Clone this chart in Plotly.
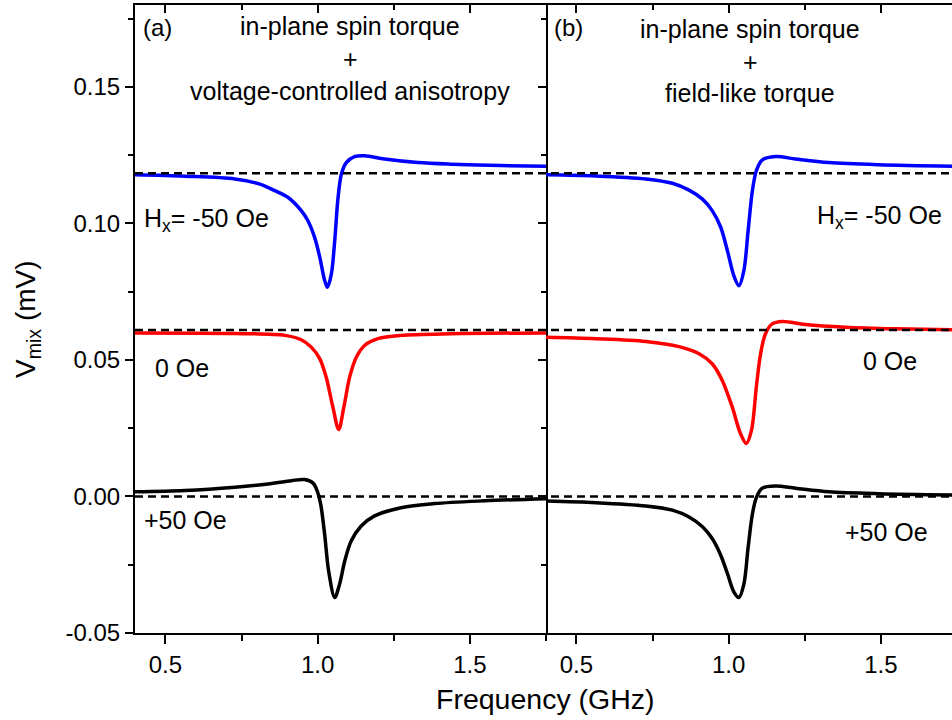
import plotly.graph_objects as go

# ---------------- data ----------------
# Panel (a): in-plane spin torque + voltage-controlled anisotropy
freq_a_m50 = [0.40, 0.564, 0.728, 0.810, 0.859, 0.903, 0.946, 0.968, 0.990, 1.007, 1.023, 1.032,
              1.045, 1.056, 1.067, 1.078, 1.094, 1.121, 1.154, 1.220, 1.329, 1.438, 1.602, 1.75]
vmix_a_m50 = [0.1178, 0.1173, 0.1163, 0.1144, 0.1120, 0.1095, 0.1047, 0.1010, 0.0949, 0.0876, 0.0791, 0.0766,
              0.0815, 0.0937, 0.1095, 0.1181, 0.1223, 0.1245, 0.1248, 0.1236, 0.1223, 0.1217, 0.1212, 0.1209]

freq_a_0 = [0.40, 0.728, 0.892, 0.946, 0.979, 1.007, 1.028, 1.050, 1.069, 1.086, 1.105, 1.127,
            1.154, 1.198, 1.274, 1.438, 1.75]
vmix_a_0 = [0.0599, 0.0597, 0.0590, 0.0574, 0.0547, 0.0504, 0.0437, 0.0327, 0.0245, 0.0327, 0.0437, 0.0510,
            0.0553, 0.0578, 0.0590, 0.0596, 0.0599]

freq_a_p50 = [0.40, 0.564, 0.728, 0.837, 0.914, 0.957, 0.985, 0.999, 1.010, 1.023, 1.036, 1.056,
              1.072, 1.089, 1.110, 1.143, 1.187, 1.274, 1.384, 1.548, 1.75]
vmix_a_p50 = [0.0017, 0.0022, 0.0034, 0.0046, 0.0058, 0.0062, 0.0049, 0.0019, -0.0029, -0.0139, -0.0273, -0.0370,
              -0.0321, -0.0236, -0.0163, -0.0108, -0.0071, -0.0041, -0.0026, -0.0016, -0.0008]

# Panel (b): in-plane spin torque + field-like torque
freq_b_m50 = [0.40, 0.564, 0.728, 0.815, 0.870, 0.914, 0.946, 0.974, 0.996, 1.017, 1.034, 1.050,
              1.064, 1.078, 1.091, 1.110, 1.154, 1.220, 1.329, 1.493, 1.75]
vmix_b_m50 = [0.1178, 0.1174, 0.1163, 0.1147, 0.1122, 0.1089, 0.1047, 0.0986, 0.0900, 0.0809, 0.0772, 0.0827,
              0.0973, 0.1120, 0.1193, 0.1232, 0.1245, 0.1236, 0.1223, 0.1215, 0.1209]

freq_b_0 = [0.40, 0.564, 0.728, 0.837, 0.903, 0.946, 0.979, 1.012, 1.039, 1.058, 1.075, 1.091,
            1.105, 1.121, 1.143, 1.176, 1.252, 1.384, 1.548, 1.75]
vmix_b_0 = [0.0583, 0.0578, 0.0568, 0.0549, 0.0523, 0.0486, 0.0425, 0.0327, 0.0230, 0.0194, 0.0242, 0.0401,
            0.0523, 0.0596, 0.0632, 0.0641, 0.0630, 0.0620, 0.0614, 0.0610]

freq_b_p50 = [0.40, 0.564, 0.728, 0.815, 0.870, 0.914, 0.946, 0.974, 0.996, 1.017, 1.034, 1.050,
              1.064, 1.078, 1.091, 1.110, 1.154, 1.220, 1.329, 1.493, 1.75]
vmix_b_p50 = [-0.0017, -0.0023, -0.0035, -0.0050, -0.0075, -0.0111, -0.0154, -0.0215, -0.0282, -0.0349, -0.0370, -0.0321,
              -0.0187, -0.0065, -0.0004, 0.0030, 0.0038, 0.0030, 0.0017, 0.0010, 0.0005]

baselines = [0.1184, 0.061, 0.0]

x_tickvals = [0.5, 1.0, 1.5]
x_ticktext = ["0.5", "1.0", "1.5"]
y_tickvals = [-0.05, 0.0, 0.05, 0.10, 0.15]
y_ticktext = ["-0.05", "0.00", "0.05", "0.10", "0.15"]

# ---------------- figure ----------------
FONT = "Liberation Sans, Arial, sans-serif"
W, H = 952, 720
ML, MR, MT, MB = 135, 0, 5, 87
split = (546 - ML) / (W - ML - MR)

fig = go.Figure()

LW = 3.5
series = [
    (freq_a_m50, vmix_a_m50, "#0000FF", "x", "y"),
    (freq_a_0, vmix_a_0, "#FF0000", "x", "y"),
    (freq_a_p50, vmix_a_p50, "#000000", "x", "y"),
    (freq_b_m50, vmix_b_m50, "#0000FF", "x2", "y2"),
    (freq_b_0, vmix_b_0, "#FF0000", "x2", "y2"),
    (freq_b_p50, vmix_b_p50, "#000000", "x2", "y2"),
]
for fx, vy, col, xa, ya in series:
    fig.add_trace(go.Scatter(x=fx, y=vy, mode="lines", xaxis=xa, yaxis=ya,
                             line=dict(color=col, width=LW, shape="spline", smoothing=0.9),
                             showlegend=False, hoverinfo="skip"))

# dashed reference lines across both panels
for b in baselines:
    fig.add_shape(type="line", xref="paper", yref="y", x0=0, x1=1, y0=b, y1=b,
                  line=dict(color="black", width=2.5, dash="8px,5px"), layer="above")

yr = [-0.05, 0.18]
xr_a = [0.4, 1.75]
xr_b = [0.4, 0.4 + (W - 546) / 304.4]

axcommon = dict(showgrid=False, zeroline=False, linecolor="black", tickcolor="black",
                tickfont=dict(family=FONT, size=24, color="black"))

fig.update_layout(
    width=W, height=H,
    margin=dict(l=ML, r=MR, t=MT, b=MB),
    paper_bgcolor="white", plot_bgcolor="white",
    font=dict(family=FONT, color="black"),
    xaxis=dict(domain=[0, split], range=xr_a, anchor="y", showline=True, linewidth=2, mirror=True,
               ticks="outside", ticklen=9, tickwidth=2, tickvals=x_tickvals, ticktext=x_ticktext,
               minor=dict(ticks="outside", ticklen=6, tickwidth=2, tickmode="linear", tick0=0, dtick=0.25,
                          tickcolor="black"),
               **axcommon),
    xaxis2=dict(domain=[split, 1], range=xr_b, anchor="y2", showline=True, linewidth=2, mirror=True,
                ticks="outside", ticklen=9, tickwidth=2, tickvals=x_tickvals, ticktext=x_ticktext,
                minor=dict(ticks="outside", ticklen=6, tickwidth=2, tickmode="linear", tick0=0, dtick=0.25,
                           tickcolor="black"),
                **axcommon),
    xaxis3=dict(overlaying="x", anchor="y", side="top", range=xr_a, showline=False,
                ticks="inside", ticklen=8, tickwidth=2, tickvals=x_tickvals, showticklabels=False,
                minor=dict(ticks="inside", ticklen=5, tickwidth=2, tickmode="linear", tick0=0, dtick=0.25,
                           tickcolor="black"),
                **axcommon),
    xaxis4=dict(overlaying="x2", anchor="y2", side="top", range=xr_b, showline=False,
                ticks="inside", ticklen=8, tickwidth=2, tickvals=x_tickvals, showticklabels=False,
                minor=dict(ticks="inside", ticklen=5, tickwidth=2, tickmode="linear", tick0=0, dtick=0.25,
                           tickcolor="black"),
                **axcommon),
    yaxis=dict(domain=[0, 1], range=yr, anchor="x", showline=True, linewidth=2, mirror=True,
               ticks="outside", ticklen=8, tickwidth=2, tickvals=y_tickvals, ticktext=y_ticktext,
               minor=dict(ticks="outside", ticklen=5, tickwidth=2, tickmode="linear", tick0=0, dtick=0.025,
                          tickcolor="black"),
               **axcommon),
    yaxis3=dict(overlaying="y", anchor="x", side="right", range=yr, showline=False,
                ticks="inside", ticklen=8, tickwidth=2, tickvals=y_tickvals, showticklabels=False,
                minor=dict(ticks="inside", ticklen=5, tickwidth=2, tickmode="linear", tick0=0, dtick=0.025,
                           tickcolor="black"),
                **axcommon),
    yaxis2=dict(domain=[0, 1], range=yr, anchor="x2", showline=False, ticks="", showticklabels=False,
                **{k: v for k, v in axcommon.items() if k != "tickfont"}),
)

# invisible traces to activate overlay axes
fig.add_trace(go.Scatter(x=[None], y=[None], xaxis="x3", yaxis="y", showlegend=False, hoverinfo="skip"))
fig.add_trace(go.Scatter(x=[None], y=[None], xaxis="x4", yaxis="y2", showlegend=False, hoverinfo="skip"))
fig.add_trace(go.Scatter(x=[None], y=[None], xaxis="x", yaxis="y3", showlegend=False, hoverinfo="skip"))

TXT = 25

def ann(text, x, y, xref, yref, xanchor="left", size=TXT, **kw):
    fig.add_annotation(text=text, x=x, y=y, xref=xref, yref=yref, xanchor=xanchor, yanchor="middle",
                       showarrow=False, font=dict(family=FONT, size=size, color="black"), **kw)

# panel labels and titles
ann("(a)", 0.421, 0.1716, "x", "y", size=24)
ann("in-plane spin torque", 1.107, 0.1722, "x", "y", xanchor="center")
ann("+", 1.107, 0.1602, "x", "y", xanchor="center")
ann("voltage-controlled anisotropy", 1.107, 0.1484, "x", "y", xanchor="center")

ann("(b)", 0.419, 0.1716, "x2", "y2", size=24)
ann("in-plane spin torque", 1.071, 0.1712, "x2", "y2", xanchor="center")
ann("+", 1.071, 0.1593, "x2", "y2", xanchor="center")
ann("field-like torque", 1.071, 0.1476, "x2", "y2", xanchor="center")

# field labels
ann("H<sub>x</sub>= -50 Oe", 0.424, 0.1012, "x", "y")
ann("H<sub>x</sub>= -50 Oe", 1.284, 0.1022, "x2", "y2")
ann("0 Oe", 0.458, 0.0469, "x", "y")
ann("0 Oe", 1.436, 0.0498, "x2", "y2")
ann("+50 Oe", 0.424, -0.0087, "x", "y")
ann("+50 Oe", 1.376, -0.0131, "x2", "y2")

# axis titles
ann("Frequency (GHz)", (545 - ML) / (W - ML - MR), -(699 - (H - MB)) / (H - MB - MT), "paper", "paper",
    xanchor="center", size=28.5)
ann("V<sub>mix</sub> (mV)", (27 - ML) / (W - ML - MR), 0.5, "paper", "paper",
    xanchor="center", size=28, textangle=-90)

fig.write_html("out.html", config={"displayModeBar": False},
               post_script="document.body.style.margin='0';document.body.style.overflow='hidden';")
